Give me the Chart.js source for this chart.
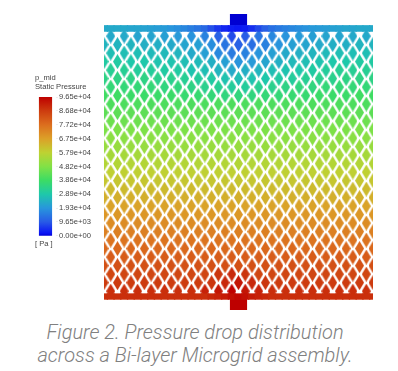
<!DOCTYPE html>
<html>
<head>
<meta charset="utf-8">
<script src="https://cdn.jsdelivr.net/npm/chart.js@4"></script>
<style>
html,body{margin:0;padding:0;background:#fff;overflow:hidden}
canvas{position:absolute;filter:blur(0.45px)}
#caption{position:absolute;left:0;top:321px;width:390px;text-align:center;font:italic 300 20px/23px Roboto,sans-serif;color:#808080;white-space:nowrap}
</style>
</head>
<body>
<canvas id="barra" width="64" height="180" style="left:35px;top:70px"></canvas>
<canvas id="grid" width="269" height="296" style="left:104px;top:14px"></canvas>
<div id="caption">Figure 2. Pressure drop distribution<br>across a Bi-layer Microgrid assembly.</div>
<script>
// colour bar
const tickValues=[96500,86800,77200,67500,57900,48200,38600,28900,19300,9650,0];
const tickLabels=['9.65e+04','8.68e+04','7.72e+04','6.75e+04','5.79e+04','4.82e+04','3.86e+04','2.89e+04','1.93e+04','9.65e+03','0.00e+00'];
const stopValues=[0,0.02,0.1,0.2,0.3,0.4,0.5,0.6,0.7,0.8,0.9,1];
const stopColors=[[0,0,210],[10,20,245],[40,90,230],[40,150,220],[30,200,170],[60,220,100],[130,225,70],[190,210,50],[220,160,40],[220,110,30],[205,60,15],[190,0,0]];
const pMax=96500;

// kPa, one value per column 0..20
const inletRows=[
[23,23,23,22,22,21,20,19,16,11,8,10,14,17,19,20,21,22,22,23,23],
[25,25,25,24,24,23,22,21,18,14,11,13,16,19,21,22,23,24,24,25,25],
[27,27,27,27,26,26,25,23,21,17,15,16,19,21,23,24,25,26,27,27,27],
[30,30,29,29,28,28,27,26,24,21,19,20,22,24,26,27,28,29,29,30,30],
[32,32,32,31,31,30,30,28,27,25,23,24,25,27,28,29,30,31,32,32,32],
[34,34,34,34,33,33,32,31,30,28,27,28,29,30,31,32,33,33,34,34,34],
[36,36,36,36,36,35,35,34,33,32,31,31,32,33,34,35,35,36,36,36,36],
[39,39,38,38,38,38,37,37,36,35,35,35,36,36,37,37,38,38,38,39,39]
];
// rows away from the ports look the same all the way across
const midRows=[41,43.2,45.4,47.5,49.6,51.7,53.8,56,58.2,60.3,62.5,64.7,66.9,69.2,71.5,73.8,76.1,78.4,80.7,83];
const outletRows=[
[85,85,85,85,85,85,85,85,85,88,90,88,85,85,85,85,85,85,85,85,85],
[87,87,87,87,87,87,87,87,88,90,93,90,88,87,87,87,87,87,87,87,87],
[89,89,89,89,89,89,89,89,91,93,96,93,91,89,89,89,89,89,89,89,89]
];
// header bars, one value every half column
const topHeader=[23,23,23,22.7,22.2,22.2,21.7,21.2,20.7,20.3,19.3,18.3,16.9,15.4,14,12.1,8.7,5.8,3.9,2.9,2.4,2.9,4.8,7.7,10.6,13,14.5,15.9,16.9,17.9,18.8,19.8,20.3,20.7,21.2,21.7,22.2,22.2,22.7,22.7,23];
const bottomHeader=[89,89,89,89,89,89,89,89,89,89,89,89,89,89,89,89,90,91,92,94,95,94,92,91,90,89,89,89,89,89,89,89,89,89,89,89,89,89,89,89,89];
const inletPressure=[0];
const outletPressure=[96.5];

function colorFor(p){
	let f=Math.min(1,Math.max(0,p/pMax));
	let i=0;
	while(i<stopValues.length-2 && f>stopValues[i+1]) i++;
	let t=(f-stopValues[i])/(stopValues[i+1]-stopValues[i]);
	let a=stopColors[i],b=stopColors[i+1];
	return 'rgb('+a.map((v,k)=>Math.round(v+(b[k]-v)*t)).join(',')+')';
}

// one small picture per colour for the cells of the mesh
let cache={};
function diamond(color){
	if(cache[color]) return cache[color];
	let c=document.createElement('canvas');
	c.width=9;c.height=15;
	let g=c.getContext('2d');
	g.fillStyle=color;
	g.beginPath();
	g.moveTo(4.5,0);g.lineTo(9,7.5);g.lineTo(4.5,15);g.lineTo(0,7.5);g.closePath();
	g.fill();
	cache[color]=c;
	return c;
}

let celdas=[];
let filas=inletRows.concat(midRows,outletRows);
filas.forEach((fila,r)=>{
	let desde=r%2==0?0.5:0;
	for(let x=desde;x<=20;x++){
		let kpa=Array.isArray(fila)?fila[Math.round(x)]:fila;
		celdas.push({x:x,y:r,p:kpa*1000});
	}
});
function header(lista,y0,y1){
	return lista.map((kpa,i)=>({x:i/2,y:[y0,y1],p:kpa*1000}));
}
function barras(datos,ancho){
	return {type:'bar',data:datos,order:0,barThickness:ancho,clip:0,grouped:false,
		backgroundColor:ctx=>colorFor(ctx.raw.p*1),parsing:{xAxisKey:'x',yAxisKey:'y'}};
}

new Chart(document.getElementById('grid'),{
	data:{datasets:[
		barras(header(topHeader,-1.25,-0.55),7.4),
		barras(header(bottomHeader,30.3,30.97),7.4),
		barras([{x:10,y:[-2.6,-1.25],p:inletPressure[0]*1000}],16.5),
		barras([{x:10,y:[30.97,32.22],p:outletPressure[0]*1000}],16.5),
		{type:'scatter',data:celdas,order:1,clip:0,pointRadius:1,
			pointStyle:ctx=>diamond(colorFor(ctx.raw?ctx.raw.p:0))}
	]},
	options:{
		responsive:false,animation:false,
		layout:{padding:0,autoPadding:false},
		plugins:{legend:{display:false},tooltip:{enabled:false}},
		scales:{
			x:{type:'linear',min:0,max:20,offset:false,display:false},
			y:{type:'linear',min:-2.6,max:32.22,reverse:true,display:false}
		}
	}
});

const barraPlot=document.getElementById('barra');
new Chart(barraPlot,{
	type:'bar',
	data:{labels:[''],datasets:[{
		data:[[0,pMax]],barThickness:12.5,
		backgroundColor:ctx=>{
			let a=ctx.chart.chartArea;
			if(!a) return '#888';
			let g=ctx.chart.ctx.createLinearGradient(0,a.bottom,0,a.top);
			stopValues.forEach((v,i)=>g.addColorStop(v,'rgb('+stopColors[i].join(',')+')'));
			return g;
		}
	}]},
	options:{
		responsive:false,animation:false,
		layout:{padding:0,autoPadding:false},
		plugins:{
			legend:{display:false},tooltip:{enabled:false},
			title:{display:true,text:['p_mid','Static Pressure'],align:'start',color:'#444',
				font:{family:'Liberation Sans',size:7.6,weight:'normal',lineHeight:1.25},padding:{top:3,bottom:5}},
			subtitle:{display:true,position:'bottom',text:'[ Pa ]',align:'start',color:'#444',
				font:{family:'Liberation Sans',size:7.6,weight:'normal'},padding:{top:3,bottom:2}}
		},
		scales:{
			x:{display:false,offset:true},
			y:{position:'right',min:0,max:pMax,
				afterBuildTicks:s=>{s.ticks=tickValues.map(v=>({value:v}))},
				afterFit:s=>{s.width=43},
				border:{display:false},
				grid:{drawOnChartArea:false,tickLength:2,color:'#eee'},
				ticks:{autoSkip:false,crossAlign:'near',padding:1,color:'#444',
					font:{family:'Liberation Sans',size:7.6},
					callback:(v,i)=>tickLabels[i]}
			}
		}
	}
});
</script>
</body>
</html>
